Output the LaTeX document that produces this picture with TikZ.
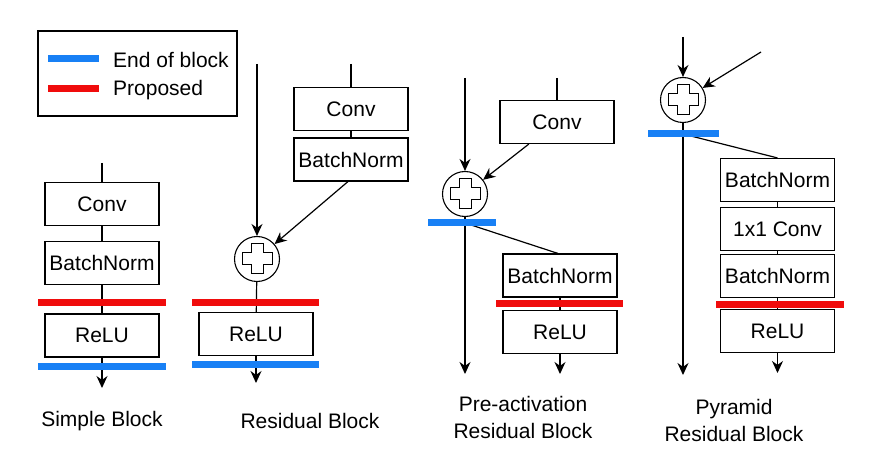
\documentclass[tikz,border=0pt]{standalone}
\usepackage{fontspec}
\setmainfont{Liberation Sans}
\usetikzlibrary{arrows.meta}
\definecolor{barblue}{RGB}{24,128,245}
\definecolor{barred}{RGB}{240,12,12}
\begin{document}
\begin{tikzpicture}[x=1pt,y=-1pt,
  every node/.style={font=\fontsize{21}{27}\selectfont},
  blk/.style={draw, line width=1.1pt, minimum width=114pt, minimum height=43pt, inner sep=0pt},
  bluebar/.style={fill=barblue, draw=none, minimum height=7pt, inner sep=0pt, minimum width=#1},
  redbar/.style={fill=barred, draw=none, minimum height=7pt, inner sep=0pt, minimum width=#1},
  conn/.style={line width=1.2pt},
  arr/.style={line width=1.2pt, -{Stealth[length=12pt,width=11pt]}},
  plusnode/.style={circle, draw, line width=1.1pt, minimum size=45pt, inner sep=0pt,
    path picture={\draw[line width=1pt, shift={(path picture bounding box.center)}]
      (-6,-15) -- (6,-15) -- (6,-6) -- (15,-6) -- (15,6) -- (6,6) -- (6,15) -- (-6,15) -- (-6,6) -- (-15,6) -- (-15,-6) -- (-6,-6) -- cycle;}},
  lbl/.style={align=center, inner sep=0pt}
]
\useasboundingbox (0,0) rectangle (883,454);

% Legend
\node[draw, line width=1.1pt, minimum width=199pt, minimum height=85pt, inner sep=0pt] (legend) at (137.5,73.5) {};
\node[bluebar=51pt] (lgb) at (73.5,59) {};
\node[redbar=51pt] (lgr) at (73.5,89) {};
\node[anchor=west, inner sep=0pt] (lgbt) at (113,60) {End of block};
\node[anchor=west, inner sep=0pt] (lgrt) at (113,90.5) {Proposed};

% Simple block
\coordinate (stop) at (102,163);
\node[blk] (sconv) at (102,204) {Conv};
\node[blk] (sbn) at (102,263) {BatchNorm};
\node[blk] (srelu) at (102,335.5) {ReLU};
\coordinate (send) at (102,388);
\draw[conn] (stop) -- (sconv);
\draw[conn] (sconv) -- (sbn);
\draw[conn] (sbn) -- (srelu);
\draw[arr] (srelu) -- (send);
\node[redbar=128pt] (sred) at (102,302) {};
\node[bluebar=128pt] (sblue) at (102,366) {};
\node[lbl] (slab) at (102,421) {Simple Block};

% Residual block
\coordinate (rtop) at (257,64);
\node[plusnode] (rplus) at (257,259) {};
\coordinate (rctop) at (351,64);
\node[blk] (rconv) at (351,109) {Conv};
\node[blk] (rbn) at (351,159.5) {BatchNorm};
\node[blk] (rrelu) at (256,334) {ReLU};
\coordinate (rend) at (256,383);
\draw[arr] (rtop) -- (rplus);
\draw[conn] (rctop) -- (rconv);
\draw[conn] (rconv) -- (rbn);
\draw[arr] ([xshift=-3pt]rbn.south) -- (rplus);
\draw[conn] (rplus) -- (rrelu);
\draw[arr] (rrelu) -- (rend);
\node[redbar=127pt] (rred) at (255.5,302) {};
\node[bluebar=127pt] (rblue) at (255.5,364) {};
\node[lbl] (rlab) at (310,421) {Residual Block};

% Pre-activation residual block
\coordinate (ptop) at (465,78);
\node[plusnode] (pplus) at (465,194) {};
\coordinate (pctop) at (557,78);
\node[blk] (pconv) at (557,122) {Conv};
\coordinate (psplit) at (465,223);
\coordinate (pend) at (465,374);
\node[blk] (pbn) at (560,275.5) {BatchNorm};
\node[blk] (prelu) at (560,332) {ReLU};
\coordinate (pend2) at (560,374);
\draw[arr] (ptop) -- (pplus);
\draw[conn] (pctop) -- (pconv);
\draw[arr] (pconv) -- (pplus);
\draw[arr] (pplus) -- (pend);
\draw[conn] (psplit) -- ([xshift=-2pt]pbn.north);
\draw[conn] (pbn) -- (prelu);
\draw[arr] (prelu) -- (pend2);
\node[bluebar=68pt] (pblue) at (462,223) {};
\node[redbar=127pt] (pred) at (559.5,303) {};
\node[lbl] (plab) at (523,417.5) {Pre-activation\\Residual Block};

% Pyramid residual block
\coordinate (ytop) at (683,37);
\node[plusnode] (yplus) at (683,100) {};
\coordinate (yin) at (761,52);
\coordinate (ysplit) at (683,134);
\coordinate (yend) at (683,375);
\node[blk] (ybn1) at (777.5,180) {BatchNorm};
\node[blk] (yconv) at (777.5,229) {1x1 Conv};
\node[blk] (ybn2) at (777.5,276) {BatchNorm};
\node[blk] (yrelu) at (777.5,331) {ReLU};
\coordinate (yend2) at (777.5,373);
\draw[arr] (ytop) -- (yplus);
\draw[arr] (yin) -- (yplus);
\draw[arr] (yplus) -- (yend);
\draw[conn] (ysplit) -- (ybn1.north);
\draw[conn] (ybn1) -- (yconv);
\draw[conn] (yconv) -- (ybn2);
\draw[conn] (ybn2) -- (yrelu);
\draw[arr] (yrelu) -- (yend2);
\node[bluebar=71pt] (yblue) at (683.5,134) {};
\node[redbar=128pt] (yred) at (780,304) {};
\node[lbl] (ylab) at (734,420) {Pyramid\\Residual Block};
\end{tikzpicture}
\end{document}
